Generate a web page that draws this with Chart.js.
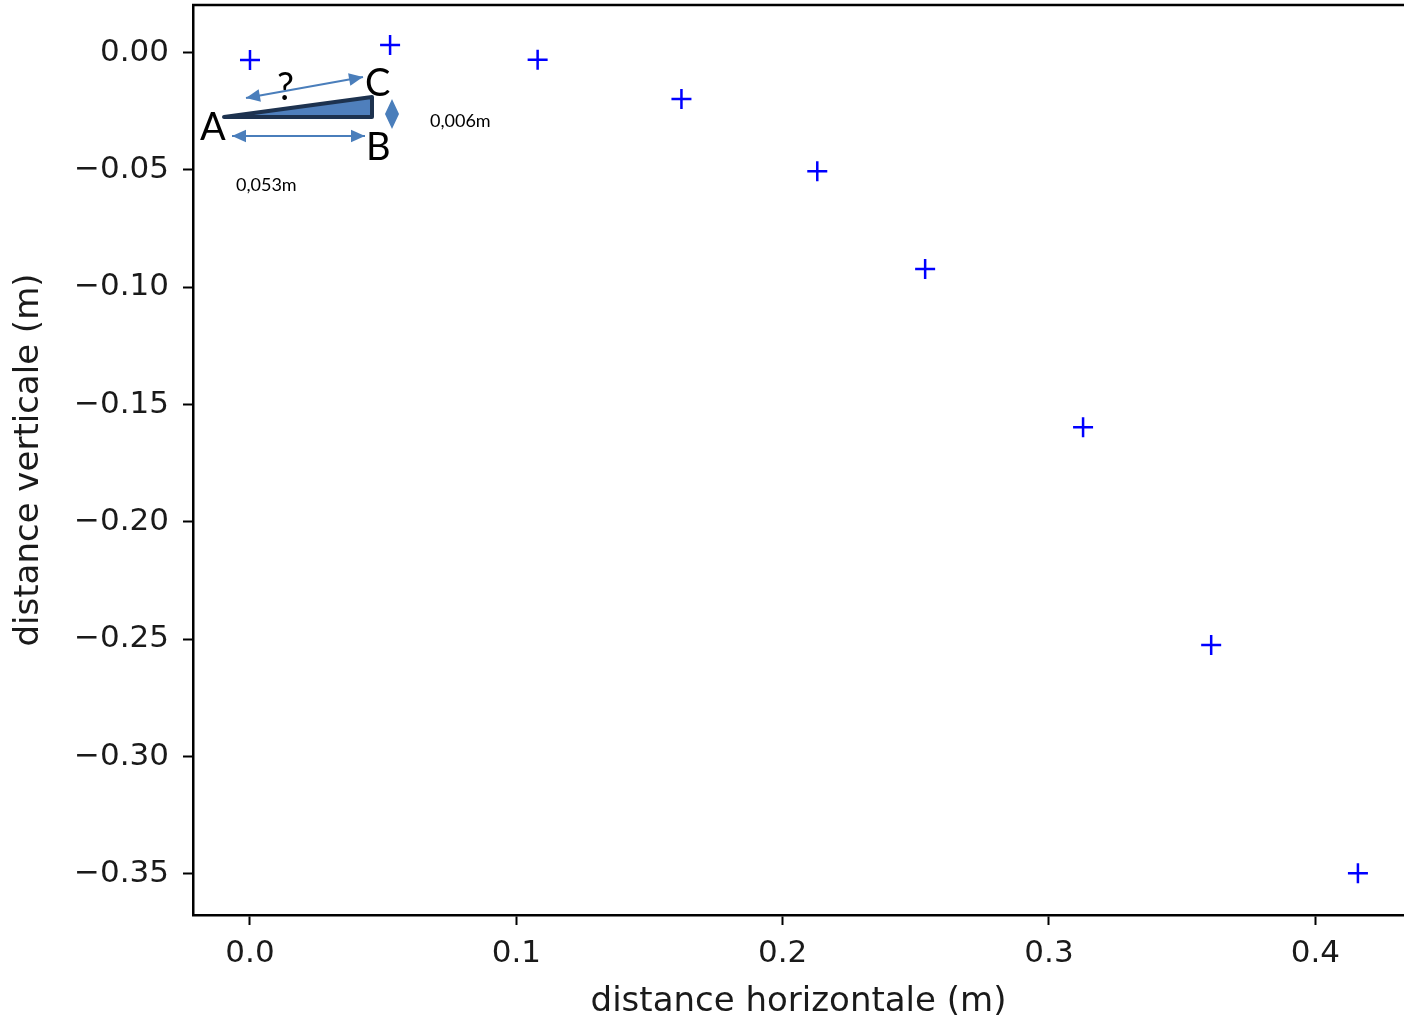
<!DOCTYPE html>
<html>
<head>
<meta charset="utf-8">
<script src="https://cdn.jsdelivr.net/npm/chart.js@4"></script>
<style>
  html, body { margin: 0; padding: 0; background: #fff; }
  #chart { display: block; }
</style>
</head>
<body>
<canvas id="chart" width="1404" height="1021"></canvas>
<script>
// measured points (m)
const distX = [0.0, 0.0526, 0.108, 0.162, 0.213, 0.2535, 0.3128, 0.3609, 0.416];
const distY = [-0.0031, 0.0033, -0.0030, -0.0198, -0.0505, -0.0922, -0.1596, -0.2524, -0.3497];
const xTicks = [0.0, 0.1, 0.2, 0.3, 0.4];
const yTicks = [0.0, -0.05, -0.10, -0.15, -0.20, -0.25, -0.30, -0.35];

const tickFont = { family: 'DejaVu Sans', size: 31 };
const titleFont = { family: 'DejaVu Sans', size: 34, lineHeight: 1 };
const textColor = '#1a1a1a';

// minus sign like matplotlib
function fmt(v, dec) {
    return (v < 0 ? '\u2212' : '') + Math.abs(v).toFixed(dec);
}

// double headed arrow
function arrow(ctx, x1, y1, x2, y2, head) {
    const ang = Math.atan2(y2 - y1, x2 - x1);
    ctx.beginPath();
    ctx.moveTo(x1, y1);
    ctx.lineTo(x2, y2);
    ctx.stroke();
    [[x2, y2, ang], [x1, y1, ang + Math.PI]].forEach(([x, y, a]) => {
        ctx.beginPath();
        ctx.moveTo(x, y);
        ctx.lineTo(x - head * Math.cos(a) + head * 0.45 * Math.sin(a), y - head * Math.sin(a) - head * 0.45 * Math.cos(a));
        ctx.lineTo(x - head * Math.cos(a) - head * 0.45 * Math.sin(a), y - head * Math.sin(a) + head * 0.45 * Math.cos(a));
        ctx.closePath();
        ctx.fill();
    });
}

// top spine + the little triangle sketch pasted on the figure
const overlay = {
    id: 'overlay',
    afterDraw(chart) {
        const ctx = chart.ctx;
        const a = chart.chartArea;
        ctx.save();
        ctx.strokeStyle = '#000';
        ctx.lineWidth = 2.5;
        ctx.beginPath();
        ctx.moveTo(a.left - 1, a.top);
        ctx.lineTo(a.right, a.top);
        ctx.stroke();

        // triangle ABC
        ctx.beginPath();
        ctx.moveTo(224, 117);
        ctx.lineTo(372, 117);
        ctx.lineTo(372, 97);
        ctx.closePath();
        ctx.fillStyle = '#4f7fbc';
        ctx.fill();
        ctx.lineJoin = 'round';
        ctx.lineWidth = 4;
        ctx.strokeStyle = '#1d324f';
        ctx.stroke();

        ctx.strokeStyle = '#4a7ebb';
        ctx.fillStyle = '#4a7ebb';
        ctx.lineWidth = 2;
        arrow(ctx, 246, 98, 363, 77, 14);
        arrow(ctx, 232, 136, 365, 136, 14);
        // small vertical arrow BC
        ctx.beginPath();
        ctx.moveTo(392, 99);
        ctx.lineTo(399, 114);
        ctx.lineTo(392, 129);
        ctx.lineTo(385, 114);
        ctx.closePath();
        ctx.fill();

        ctx.fillStyle = '#000';
        ctx.textBaseline = 'alphabetic';
        ctx.textAlign = 'left';
        ctx.font = '38px Lato';
        ctx.fillText('A', 200, 140);
        ctx.fillText('B', 366, 160);
        ctx.fillText('C', 365, 96);
        ctx.fillText('?', 277, 100);
        ctx.font = '18px Lato';
        ctx.fillText('0,006m', 430, 127);
        ctx.fillText('0,053m', 236, 191);
        ctx.restore();
    }
};

const ctx = document.getElementById('chart').getContext('2d');
const chart = new Chart(ctx, {
    type: 'scatter',
    data: {
        datasets: [{
            data: distX.map((x, i) => ({ x: x, y: distY[i] })),
            pointStyle: 'cross',
            pointRadius: 10,
            borderWidth: 2.5,
            borderColor: '#0000ff',
            backgroundColor: '#0000ff'
        }]
    },
    options: {
        responsive: false,
        animation: false,
        layout: { autoPadding: false, padding: { top: 5, right: 0, left: 0, bottom: 0 } },
        plugins: { legend: { display: false }, tooltip: { enabled: false } },
        scales: {
            x: {
                type: 'linear',
                min: -0.0214,
                max: 0.4333,
                afterBuildTicks: s => { s.ticks = xTicks.map(v => ({ value: v })); },
                afterFit: s => { s.height = 106; s.paddingLeft = 0; s.paddingRight = 0; },
                ticks: { callback: v => fmt(v, 1), font: tickFont, color: textColor, padding: 10, maxRotation: 0 },
                grid: { drawOnChartArea: false, drawTicks: true, tickLength: 10, tickWidth: 2, tickColor: '#000' },
                border: { display: true, color: '#000', width: 2.5 },
                title: { display: true, text: 'distance horizontale (m)', font: titleFont, color: textColor, padding: { top: 0, bottom: 2 } }
            },
            y: {
                type: 'linear',
                min: -0.3675,
                max: 0.0203,
                afterBuildTicks: s => { s.ticks = yTicks.map(v => ({ value: v })); },
                afterFit: s => { s.width = 193; s.paddingTop = 0; s.paddingBottom = 0; },
                ticks: { callback: v => fmt(v, 2), font: tickFont, color: textColor, padding: 14 },
                grid: { drawOnChartArea: false, drawTicks: true, tickLength: 10, tickWidth: 2, tickColor: '#000' },
                border: { display: true, color: '#000', width: 2.5 },
                title: { display: true, text: 'distance verticale (m)', font: titleFont, color: textColor, padding: { top: 12, bottom: 0 } }
            }
        }
    },
    plugins: [overlay]
});
</script>
</body>
</html>
